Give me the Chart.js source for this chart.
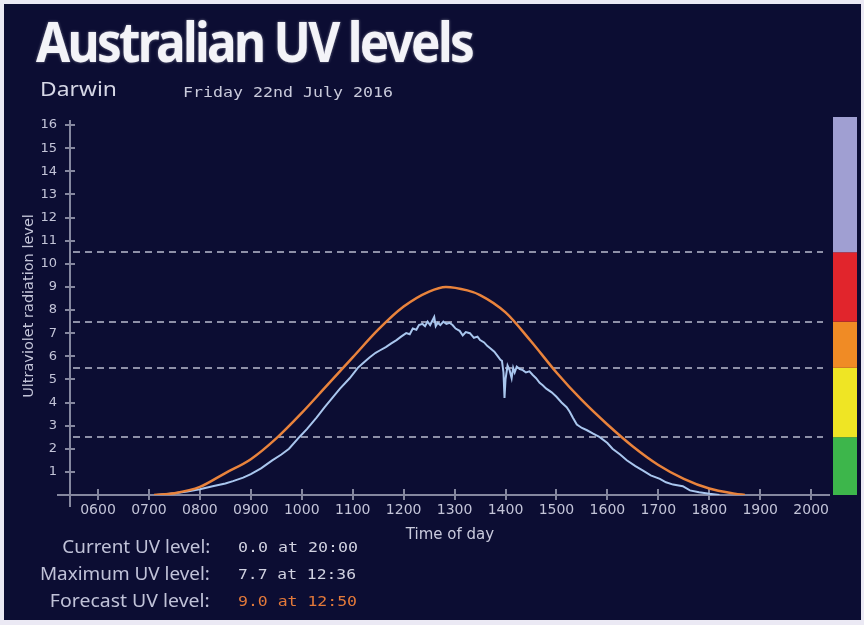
<!DOCTYPE html>
<html>
<head>
<meta charset="utf-8">
<title>Australian UV levels</title>
<script src="https://cdn.jsdelivr.net/npm/chart.js@4"></script>
<style>
  html, body { margin: 0; padding: 0; }
  body { width: 864px; height: 625px; background: #ebe9f4; position: relative; overflow: hidden; }
  #panel { position: absolute; left: 4px; top: 4px; width: 857px; height: 616px; background: #0c0d33; }
  #c { position: absolute; left: 0; top: 0; }
  .txt { position: absolute; white-space: nowrap; line-height: 1; }
  .sans { font-family: "Noto Sans", "DejaVu Sans", sans-serif; }
  .mono { font-family: "DejaVu Sans Mono", monospace; }
  #title { left: 36px; top: 13px; font-size: 55px; font-weight: 700; letter-spacing: -3px; color: #f3f3f8;
           transform-origin: left top; text-shadow: 0 0 3px rgba(255,255,255,0.45); }
  #city { left: 40px; top: 79px; font-size: 20px; color: #d6d7e6; transform-origin: left top; }
  #date { left: 183px; top: 85px; font-size: 14px; color: #c9cadb; transform-origin: left top; }
  .lbl { right: 654px; font-size: 18px; color: #c0c2d8; transform-origin: right top; }
  .val { left: 238px; font-size: 14px; color: #d0d1e0; transform-origin: left top; }
  .fc { color: #e3793a; }
</style>
</head>
<body>
<div id="panel"></div>
<canvas id="c" width="864" height="625"></canvas>

<div class="txt sans" id="title" data-w="436">Australian UV levels</div>
<div class="txt sans" id="city" data-w="77">Darwin</div>
<div class="txt mono" id="date" data-w="210">Friday 22nd July 2016</div>

<div class="txt sans lbl" style="top:537px" data-w="148">Current UV level:</div>
<div class="txt sans lbl" style="top:564px" data-w="170">Maximum UV level:</div>
<div class="txt sans lbl" style="top:591px" data-w="160">Forecast UV level:</div>
<div class="txt mono val" style="top:540px" data-w="120">0.0 at 20:00</div>
<div class="txt mono val" style="top:567px" data-w="118">7.7 at 12:36</div>
<div class="txt mono val fc" style="top:594px" data-w="119">9.0 at 12:50</div>

<script>
// jam (desimal) dan nilai UV prakiraan
const FORECAST_TIME = [7.1, 7.5, 8.0, 8.5, 9.0, 9.5, 10.0, 10.5, 11.0, 11.5, 12.0, 12.5, 12.83,
  13.25, 13.5, 14.0, 14.5, 15.0, 15.5, 16.0, 16.5, 17.0, 17.5, 18.0, 18.5, 18.7];
const FORECAST_UV = [0, 0.08, 0.35, 0.95, 1.55, 2.45, 3.55, 4.75, 5.95, 7.15, 8.15, 8.8, 9.0,
  8.85, 8.65, 7.9, 6.65, 5.3, 4.1, 3.05, 2.1, 1.3, 0.7, 0.28, 0.06, 0];

// nilai UV terukur
const MEASURED_TIME = [7.15, 7.5, 7.75, 8.0, 8.25, 8.5, 8.65, 8.85, 9.0, 9.2, 9.42, 9.6, 9.75, 9.95,
  10.1, 10.29, 10.45, 10.6, 10.75, 10.94, 11.1, 11.2, 11.33, 11.45, 11.53, 11.65, 11.75, 11.86, 11.95,
  12.05, 12.12, 12.18, 12.25, 12.3, 12.37, 12.42, 12.47, 12.52, 12.6, 12.63, 12.67, 12.72, 12.78, 12.84,
  12.9, 12.96, 13.02, 13.1, 13.16, 13.22, 13.3, 13.38, 13.45, 13.5, 13.58, 13.64, 13.7, 13.78, 13.85,
  13.9, 13.93, 13.96, 13.98, 14.0, 14.04, 14.08, 14.12, 14.15, 14.18, 14.22, 14.28, 14.34, 14.4, 14.47,
  14.53, 14.6, 14.67, 14.73, 14.8, 14.9, 15.0, 15.1, 15.2, 15.26, 15.32, 15.4, 15.5, 15.6, 15.72, 15.85,
  16.0, 16.1, 16.25, 16.38, 16.55, 16.7, 16.85, 17.03, 17.15, 17.29, 17.48, 17.62, 17.8, 18.0, 18.2];
const MEASURED_UV = [0, 0.08, 0.15, 0.25, 0.38, 0.5, 0.6, 0.75, 0.9, 1.15, 1.5, 1.75, 2.0, 2.5,
  2.85, 3.35, 3.8, 4.2, 4.6, 5.05, 5.5, 5.7, 5.95, 6.15, 6.25, 6.4, 6.55, 6.7, 6.85,
  7.0, 6.95, 7.2, 7.15, 7.35, 7.4, 7.3, 7.5, 7.35, 7.7, 7.3, 7.45, 7.35, 7.5, 7.4,
  7.45, 7.35, 7.2, 7.1, 6.9, 7.05, 7.0, 6.8, 6.85, 6.7, 6.6, 6.45, 6.35, 6.2, 6.0,
  5.85, 5.8, 5.3, 4.2, 5.0, 5.6, 5.4, 5.05, 5.5, 5.3, 5.55, 5.45, 5.4, 5.3, 5.35,
  5.2, 5.05, 4.85, 4.75, 4.6, 4.45, 4.25, 4.0, 3.8, 3.6, 3.35, 3.05, 2.9, 2.8, 2.65, 2.5,
  2.25, 2.0, 1.75, 1.5, 1.25, 1.05, 0.85, 0.7, 0.55, 0.45, 0.38, 0.2, 0.12, 0.05, 0];

const HOUR_TICKS = [6, 7, 8, 9, 10, 11, 12, 13, 14, 15, 16, 17, 18, 19, 20];
const UV_TICKS = [1, 2, 3, 4, 5, 6, 7, 8, 9, 10, 11, 12, 13, 14, 15, 16];

// batas kategori UV dan warnanya (rendah -> ekstrem)
const BAND_EDGES = [2.5, 5.5, 7.5, 10.5];
const BAND_COLORS = ['#3db64b', '#efe524', '#f08b25', '#e1252c', '#a09fd2'];

const AXIS_COLOR = '#85879f';

// plugin: garis putus-putus kategori, batang warna, sumbu bersilang
const uvPlugin = {
  id: 'uvPlugin',
  beforeDatasetsDraw(chart) {
    const { ctx, chartArea, scales: { x, y } } = chart;
    ctx.save();

    // batang warna di kanan
    const edges = [0, ...BAND_EDGES, y.max];
    BAND_COLORS.forEach((col, i) => {
      const top = y.getPixelForValue(edges[i + 1]);
      const bot = y.getPixelForValue(edges[i]);
      ctx.fillStyle = col;
      ctx.fillRect(chartArea.right + 3, top, 24, bot - top);
    });

    // garis putus-putus
    ctx.strokeStyle = '#8e90a8';
    ctx.lineWidth = 2;
    ctx.setLineDash([7, 5]);
    BAND_EDGES.forEach(v => {
      const py = Math.round(y.getPixelForValue(v));
      ctx.beginPath();
      ctx.moveTo(chartArea.left + 3, py);
      ctx.lineTo(chartArea.right - 7, py);
      ctx.stroke();
    });
    ctx.setLineDash([]);

    // sumbu
    const x0 = x.getPixelForValue(x.min);
    const y0 = y.getPixelForValue(0);
    ctx.strokeStyle = AXIS_COLOR;
    ctx.lineWidth = 2;
    ctx.beginPath();
    ctx.moveTo(x0, chartArea.top + 3);
    ctx.lineTo(x0, y0 + 12);
    ctx.moveTo(x0 - 13, y0);
    ctx.lineTo(chartArea.right, y0);
    ctx.stroke();

    // tanda tick bersilang
    ctx.beginPath();
    y.ticks.forEach(t => {
      const py = Math.round(y.getPixelForValue(t.value));
      ctx.moveTo(x0 - 5, py);
      ctx.lineTo(x0 + 5, py);
    });
    x.ticks.forEach(t => {
      const px = Math.round(x.getPixelForValue(t.value));
      ctx.moveTo(px, y0 - 6);
      ctx.lineTo(px, y0 + 5);
    });
    ctx.stroke();
    ctx.restore();
  }
};

new Chart(document.getElementById('c'), {
  type: 'line',
  data: {
    datasets: [
      {
        label: 'Forecast UV level',
        data: FORECAST_TIME.map((t, i) => ({ x: t, y: FORECAST_UV[i] })),
        borderColor: '#e9833c',
        borderWidth: 2.5,
        pointRadius: 0,
        cubicInterpolationMode: 'monotone',
        fill: false
      },
      {
        label: 'Measured UV level',
        data: MEASURED_TIME.map((t, i) => ({ x: t, y: MEASURED_UV[i] })),
        borderColor: '#a9c6ee',
        borderWidth: 2,
        pointRadius: 0,
        tension: 0,
        fill: false
      }
    ]
  },
  options: {
    responsive: false,
    animation: false,
    events: [],
    layout: { padding: { left: 0, right: 34, top: 117, bottom: 78 } },
    plugins: { legend: { display: false }, tooltip: { enabled: false } },
    scales: {
      x: {
        type: 'linear',
        min: 5.45,
        max: 20.37,
        grid: { display: false, drawTicks: false },
        border: { display: false },
        afterBuildTicks: s => { s.ticks = HOUR_TICKS.map(v => ({ value: v })); },
        afterFit: s => { s.height = 52; },
        ticks: {
          color: '#c3c4d8',
          font: { family: 'DejaVu Sans', size: 14 },
          padding: 7,
          maxRotation: 0,
          autoSkip: false,
          callback: v => String(v * 100).padStart(4, '0')
        },
        title: {
          display: true,
          text: 'Time of day',
          color: '#c8c9dc',
          font: { family: 'DejaVu Sans', size: 15 },
          padding: { top: 0, bottom: 3 }
        }
      },
      y: {
        min: 0,
        max: 16.35,
        grid: { display: false, drawTicks: false },
        border: { display: false },
        afterBuildTicks: s => { s.ticks = UV_TICKS.map(v => ({ value: v })); },
        afterFit: s => { s.width = 70; },
        ticks: { color: '#c3c4d8', font: { family: 'DejaVu Sans', size: 13 }, padding: 13, autoSkip: false },
        title: {
          display: true,
          text: 'Ultraviolet radiation level',
          color: '#c3c4d8',
          font: { family: 'DejaVu Sans', size: 14.5 },
          padding: { top: 21, bottom: 0 }
        }
      }
    }
  },
  plugins: [uvPlugin]
});

// sesuaikan lebar teks dengan gambar asli
function fitText() {
  document.querySelectorAll('.txt[data-w]').forEach(el => {
    el.style.transform = 'none';
    const w = el.getBoundingClientRect().width;
    el.style.transform = `scaleX(${parseFloat(el.dataset.w) / w})`;
  });
}
fitText();
document.fonts.ready.then(fitText);
</script>
</body>
</html>
